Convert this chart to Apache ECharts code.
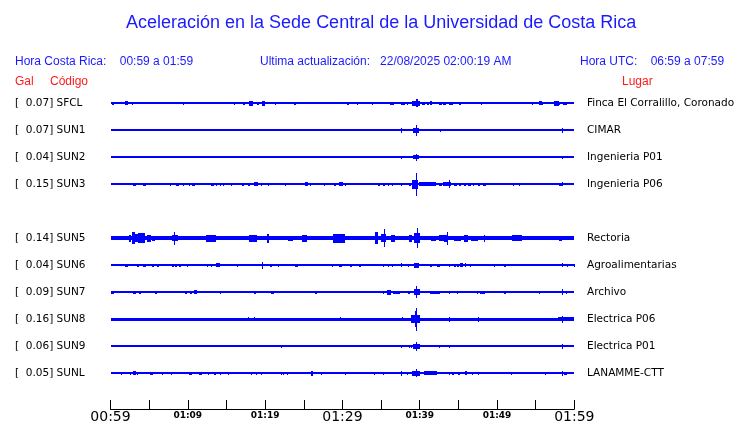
<!DOCTYPE html>
<html><head><meta charset="utf-8">
<script src="https://cdn.jsdelivr.net/npm/echarts@6/dist/echarts.min.js"></script>
<style>html,body{margin:0;padding:0;background:#fff}#c{width:740px;height:423px}</style>
</head><body><div id="c"></div>
<script>
// ---------- DATA ----------
const stations = ['SFCL','SUN1','SUN2','SUN3','','SUN5','SUN6','SUN7','SUN8','SUN9','SUNL'];
const galValues = ['0.07','0.07','0.04','0.15','','0.14','0.04','0.09','0.16','0.06','0.05'];
const places = ['Finca El Corralillo, Coronado','CIMAR','Ingenieria P01','Ingenieria P06','','Rectoria','Agroalimentarias','Archivo','Electrica P06','Electrica P01','LANAMME-CTT'];
const tickLabels = ['00:59','01:09','01:19','01:29','01:39','01:49','01:59'];
const majorTicks = ['00:59','01:29','01:59'];
// background noise half-amplitude of each trace (row spacing = 10 units)
const baseNoise = [0,0,0,0,0,0.75,0,0,0.62,0,0];
// bursts: [minute after 00:59, half amplitude, duration (min)]
const burstsSFCL = [[0.15,0.5,0.26],[1.1,0.4,0.1],[1.88,0.7,0.4],[2.83,0.5,0.05],[5.97,0.4,0.05],[9.43,0.5,0.05],[16.0,0.5,0.05],[17.1,0.5,0.25],[17.9,0.9,0.5],[18.9,0.6,0.35],[19.6,0.9,0.35],[21.3,0.5,0.05],[23.7,0.6,0.35],[29.05,0.4,0.05],[29.7,0.4,0.05],[30.6,0.5,0.25],[31.95,0.5,0.05],[33.8,0.5,0.05],[35.4,0.4,0.05],[36.2,0.6,0.5],[37.6,0.6,0.5],[38.3,0.5,0.25],[38.95,0.9,1.1],[39.5,1.5,0.3],[40.3,0.6,0.45],[40.9,0.5,0.35],[41.35,0.7,0.25],[42.55,0.5,0.35],[43.0,0.6,0.45],[43.85,0.6,0.45],[45.1,0.5,0.25],[47.9,0.5,0.05],[54.5,0.5,0.05],[55.4,0.7,0.45],[55.8,0.5,0.1],[56.3,0.4,0.05],[57.4,1.0,0.6],[58.0,0.5,0.2],[58.6,0.6,0.45],[59.5,0.4,0.05]];
const burstsSUN1 = [[14.2,0.3,0.05],[35.2,0.3,0.05],[37.6,1.0,0.05],[39.1,0.9,0.85],[39.5,2.0,0.1],[42.65,0.6,0.05],[43.7,0.3,0.05],[58.4,1.0,0.15]];
const burstsSUN2 = [[37.6,0.5,0.05],[39.15,0.7,0.7],[39.5,1.2,0.1],[58.4,0.5,0.2]];
const burstsSUN3 = [[2.1,0.3,0.05],[2.95,0.6,0.3],[3.4,0.4,0.1],[4.25,0.6,0.3],[4.9,0.3,0.05],[5.55,0.3,0.05],[7.7,0.5,0.05],[8.5,0.6,0.3],[9.43,0.5,0.1],[10.1,0.5,0.05],[10.6,0.6,0.3],[11.4,0.4,0.05],[13.0,0.6,0.4],[13.65,0.5,0.1],[14.2,0.6,0.05],[14.5,0.5,0.05],[15.6,0.5,0.05],[16.3,0.4,0.05],[17.05,0.6,0.2],[17.75,0.6,0.3],[18.5,0.7,0.6],[19.5,0.6,0.05],[20.4,0.5,0.05],[21.6,0.4,0.05],[22.6,0.5,0.1],[23.4,0.4,0.05],[25.2,0.8,0.3],[25.8,0.5,0.05],[27.0,0.4,0.05],[27.6,0.5,0.05],[28.85,0.6,0.35],[29.6,0.7,0.45],[30.35,0.5,0.05],[34.6,0.6,0.3],[35.2,0.6,0.3],[35.85,0.5,0.05],[36.4,0.6,0.05],[37.6,0.6,0.05],[38.6,0.6,0.3],[38.95,1.6,0.85],[39.5,4.3,0.08],[39.85,0.7,2.2],[42.55,0.6,0.3],[43.0,0.7,1.0],[43.75,1.5,0.05],[44.5,0.6,0.3],[45.1,0.6,0.3],[45.7,0.6,0.3],[46.3,0.6,0.3],[46.9,0.6,0.05],[47.5,0.6,0.3],[48.25,0.6,0.3],[52.1,0.5,0.05],[52.8,0.5,0.05],[58.05,0.6,0.3],[58.4,0.8,0.15]];
const burstsSUN5 = [[2.4,1.2,0.3],[2.8,2.2,0.4],[3.2,1.5,0.3],[3.6,1.9,0.9],[4.7,1.4,0.5],[5.4,0.9,0.4],[6.0,0.7,0.6],[7.9,1.1,0.85],[8.25,2.3,0.1],[10.0,0.7,0.3],[10.6,0.7,0.3],[11.5,0.7,0.3],[12.3,1.2,1.3],[14.0,0.6,0.3],[14.6,0.6,0.3],[15.3,0.6,0.3],[15.9,0.6,0.2],[16.6,0.6,0.2],[17.9,1.3,1.0],[20.2,1.6,0.3],[21.4,0.6,0.1],[22.1,0.6,0.3],[23.0,0.9,0.6],[24.8,1.4,0.6],[28.8,1.6,1.5],[31.2,0.7,0.2],[32.7,0.6,0.2],[34.2,2.2,0.4],[35.0,1.5,0.7],[35.4,3.3,0.1],[36.3,1.3,0.5],[37.5,0.8,0.3],[38.6,1.4,0.4],[39.2,1.9,0.85],[39.6,3.7,0.1],[40.7,0.6,0.2],[41.5,0.9,0.6],[42.5,1.1,0.6],[43.2,1.3,0.5],[43.5,2.3,0.15],[44.5,0.9,0.8],[45.7,1.2,0.6],[46.6,0.9,1.0],[48.3,1.3,0.2],[50.0,0.7,0.6],[52.0,1.1,1.2],[57.0,0.6,0.1],[58.0,1.0,0.4],[59.4,0.6,0.2]];
const burstsSUN6 = [[0.9,0.3,0.05],[1.9,0.6,0.4],[2.65,0.4,0.1],[3.4,0.5,0.3],[4.25,0.6,0.3],[5.35,0.5,0.3],[6.0,0.6,0.25],[6.85,0.4,0.05],[7.9,0.6,0.3],[8.35,0.6,0.3],[8.85,0.6,0.3],[9.85,0.5,0.05],[10.6,0.4,0.05],[11.6,0.4,0.05],[12.45,0.5,0.05],[13.0,0.5,0.1],[13.7,0.7,0.5],[15.7,0.4,0.05],[16.35,0.5,0.05],[19.55,1.2,0.1],[20.6,0.6,0.3],[21.7,0.6,0.1],[22.35,0.4,0.05],[23.9,0.6,0.3],[26.25,0.4,0.05],[27.5,0.4,0.05],[28.6,0.5,0.2],[29.5,0.6,0.45],[31.0,0.6,0.3],[32.1,0.5,0.1],[32.3,0.5,0.1],[35.2,0.6,0.2],[35.85,0.5,0.1],[36.4,0.5,0.05],[37.6,0.7,0.05],[38.55,0.5,0.05],[39.3,1.0,0.6],[41.35,0.6,0.2],[42.2,0.6,0.3],[42.55,0.5,0.1],[43.75,0.5,0.05],[44.4,0.6,0.3],[44.8,0.6,0.3],[45.25,0.8,0.3],[45.8,0.7,0.1],[46.5,0.5,0.1],[47.5,0.4,0.05],[49.55,0.5,0.05],[50.85,0.6,0.3],[53.7,0.4,0.05],[55.2,0.4,0.05],[57.1,0.4,0.05],[58.4,0.8,0.1],[59.05,0.5,0.05],[59.9,0.5,0.05]];
const burstsSUN7 = [[0.1,0.5,0.3],[1.35,0.4,0.05],[2.4,0.4,0.05],[2.95,0.5,0.3],[3.65,0.6,0.3],[4.55,0.4,0.05],[5.7,0.5,0.3],[6.4,0.4,0.05],[9.65,0.6,0.3],[10.3,0.6,0.3],[10.85,0.7,0.3],[14.2,0.5,0.05],[16.1,0.4,0.05],[17.75,0.4,0.05],[18.6,0.5,0.2],[20.8,0.6,0.3],[23.65,0.4,0.05],[25.3,0.4,0.05],[26.5,0.6,0.2],[27.25,0.4,0.05],[29.6,0.4,0.05],[31.0,0.4,0.05],[35.2,0.6,0.2],[35.8,1.0,0.5],[36.5,0.6,1.0],[38.55,0.6,0.2],[39.2,1.1,0.85],[39.5,2.2,0.1],[41.3,0.6,1.3],[43.75,0.5,0.2],[44.8,0.5,0.2],[47.4,0.5,0.1],[47.8,0.6,0.6],[50.85,0.6,0.3],[51.5,0.4,0.05],[54.1,0.4,0.05],[55.4,0.5,0.1],[58.4,1.1,0.1],[58.9,0.5,0.2],[59.7,0.4,0.05]];
const burstsSUN8 = [[17.85,0.8,0.05],[18.5,0.7,0.05],[29.7,0.8,0.1],[37.7,0.8,0.1],[38.9,1.5,1.1],[39.35,3.0,0.25],[39.5,4.3,0.1],[43.75,1.0,0.1],[47.5,1.0,0.15],[57.9,0.8,2.1],[58.4,1.3,0.1]];
const burstsSUN9 = [[22.1,0.5,0.05],[37.6,0.5,0.05],[38.6,0.5,0.05],[38.9,0.6,0.05],[39.1,0.9,1.0],[39.5,1.6,0.1],[42.55,0.5,0.05],[43.75,0.6,0.2],[47.6,0.4,0.05],[58.4,1.0,0.1]];
const burstsSUNL = [[1.35,0.5,0.05],[2.5,0.5,0.1],[2.95,0.7,0.3],[3.4,0.5,0.05],[4.45,0.4,0.05],[5.1,0.6,0.35],[6.2,0.4,0.05],[6.6,0.5,0.05],[7.8,0.6,0.2],[8.7,0.4,0.05],[9.65,0.4,0.05],[10.2,0.5,0.3],[10.95,0.4,0.05],[11.45,0.6,0.4],[12.6,0.5,0.05],[13.45,0.6,0.2],[14.2,0.5,0.05],[15.25,0.5,0.05],[18.2,0.5,0.05],[18.8,0.6,0.2],[19.5,0.5,0.05],[22.1,0.5,0.05],[22.35,0.5,0.05],[22.8,0.5,0.1],[23.4,0.4,0.05],[26.0,0.9,0.25],[27.25,0.6,0.15],[30.3,0.5,0.1],[32.95,0.4,0.05],[34.15,0.5,0.1],[35.2,0.6,0.15],[37.55,0.9,0.1],[38.3,0.6,0.25],[39.0,1.0,1.0],[39.5,1.5,0.1],[40.6,0.7,1.7],[43.75,0.5,0.05],[44.2,0.5,0.2],[44.9,0.6,0.3],[45.8,0.7,0.3],[46.75,0.5,0.05],[47.5,0.5,0.2],[51.85,0.5,0.05],[52.3,0.4,0.05],[55.6,0.4,0.05],[56.25,0.5,0.1],[58.4,1.0,0.1],[58.7,0.6,0.35]];
const allBursts = [burstsSFCL,burstsSUN1,burstsSUN2,burstsSUN3,[],burstsSUN5,burstsSUN6,burstsSUN7,burstsSUN8,burstsSUN9,burstsSUNL];

// ---------- CHART ----------
const ROW = 10;          // y units between traces
const gridTop = 76.3, gridBottom = 14, H = 423;
const rowPx = 27;
const yMax = -ROW + (H - gridTop - gridBottom) / rowPx * ROW;

const baseData = [], burstData = [];
stations.forEach((s, i) => {
  if (!s) return;
  baseData.push([i, 0, baseNoise[i], 60]);
  allBursts[i].forEach(b => burstData.push([i, b[0], b[1], b[2]]));
});

function renderRect(params, api) {
  const row = api.value(0), t = api.value(1), a = api.value(2), d = api.value(3);
  const y0 = row * ROW;
  const p1 = api.coord([t, y0 - a]);
  const p2 = api.coord([t + d, y0 + a]);
  const pc = api.coord([t, y0]);
  let x1 = Math.round(p1[0]), x2 = Math.max(x1 + 1, Math.round(p2[0]));
  let top = Math.round(Math.min(p1[1], p2[1]));
  let bot = Math.round(Math.max(p1[1], p2[1]));
  const cy = Math.round(pc[1]);
  if (bot - top < 2) { top = cy - 1; bot = cy + 1; }
  return { type: 'rect', shape: { x: x1, y: top, width: x2 - x1, height: bot - top },
           style: { fill: '#0000ff' } };
}

function timeLabel(v) {
  const total = 59 + Math.round(v);
  const h = Math.floor(total / 60), m = total % 60;
  return String(h).padStart(2, '0') + ':' + String(m).padStart(2, '0');
}

const chart = echarts.init(document.getElementById('c'), null, { renderer: 'canvas' });
const blue = '#1a1aff', red = '#ff1a1a';
const hdrFont = '"Liberation Sans", Arial, sans-serif';
const dataFont = '"DejaVu Sans", sans-serif';

chart.setOption({
  animation: false,
  backgroundColor: '#fff',
  title: { text: 'Aceleración en la Sede Central de la Universidad de Costa Rica', left: 121, top: 9,
    textStyle: { color: blue, fontSize: 18, fontWeight: 'normal', fontFamily: hdrFont } },
  graphic: [
    { type: 'text', left: 15, top: 56, style: { text: 'Hora Costa Rica:    00:59 a 01:59', fill: blue, font: '12px ' + hdrFont } },
    { type: 'text', left: 260, top: 56, style: { text: 'Ultima actualización:   22/08/2025 02:00:19 AM', fill: blue, font: '12px ' + hdrFont } },
    { type: 'text', left: 580, top: 56, style: { text: 'Hora UTC:    06:59 a 07:59', fill: blue, font: '12px ' + hdrFont } },
    { type: 'text', left: 15, top: 76, style: { text: 'Gal', fill: red, font: '12px ' + hdrFont } },
    { type: 'text', left: 50, top: 76, style: { text: 'Código', fill: red, font: '12px ' + hdrFont } },
    { type: 'text', left: 622, top: 76, style: { text: 'Lugar', fill: red, font: '12px ' + hdrFont } }
  ],
  grid: { left: 110.5, right: 740 - 574.3, top: gridTop, bottom: gridBottom, containLabel: false, outerBoundsMode: 'none' },
  xAxis: {
    type: 'value', min: 0, max: 60, interval: 5, position: 'bottom',
    axisLine: { show: true, onZero: false, lineStyle: { color: '#000', width: 1 } },
    axisTick: { show: true, inside: true, length: 9, lineStyle: { color: '#000' } },
    splitLine: { show: false },
    axisLabel: {
      margin: 1, showMinLabel: true, showMaxLabel: true,
      formatter: v => {
        if (v % 10 !== 0) return '';
        const t = timeLabel(v);
        if (!tickLabels.includes(t)) return '';
        return majorTicks.includes(t) ? '{big|' + t + '}' : '{small|' + t + '}';
      },
      rich: {
        big: { fontSize: 14, fontFamily: dataFont, color: '#000', lineHeight: 14 },
        small: { fontSize: 9, fontWeight: 'bold', fontFamily: dataFont, color: '#000', lineHeight: 11 }
      }
    }
  },
  yAxis: [
    { type: 'value', inverse: true, min: -ROW, max: yMax, interval: ROW,
      axisLine: { show: false }, axisTick: { show: false }, splitLine: { show: false },
      axisLabel: { margin: 110.5 - 15, align: 'left', color: '#000', fontSize: 10.5, fontFamily: dataFont,
        formatter: v => { const i = Math.round(v / ROW); return (i >= 0 && i < stations.length && stations[i]) ? '[  ' + galValues[i] + '] ' + stations[i] : ''; } } },
    { type: 'value', inverse: true, min: -ROW, max: yMax, interval: ROW, position: 'right',
      axisLine: { show: false }, axisTick: { show: false }, splitLine: { show: false },
      axisLabel: { margin: 587 - 574.3, align: 'left', color: '#000', fontSize: 10.5, fontFamily: dataFont,
        formatter: v => { const i = Math.round(v / ROW); return (i >= 0 && i < places.length) ? places[i] : ''; } } }
  ],
  series: [
    { type: 'custom', renderItem: renderRect, data: baseData, encode: { x: 1, y: 0 }, silent: true },
    { type: 'custom', renderItem: renderRect, data: burstData, encode: { x: 1, y: 0 }, silent: true }
  ]
});
</script></body></html>
